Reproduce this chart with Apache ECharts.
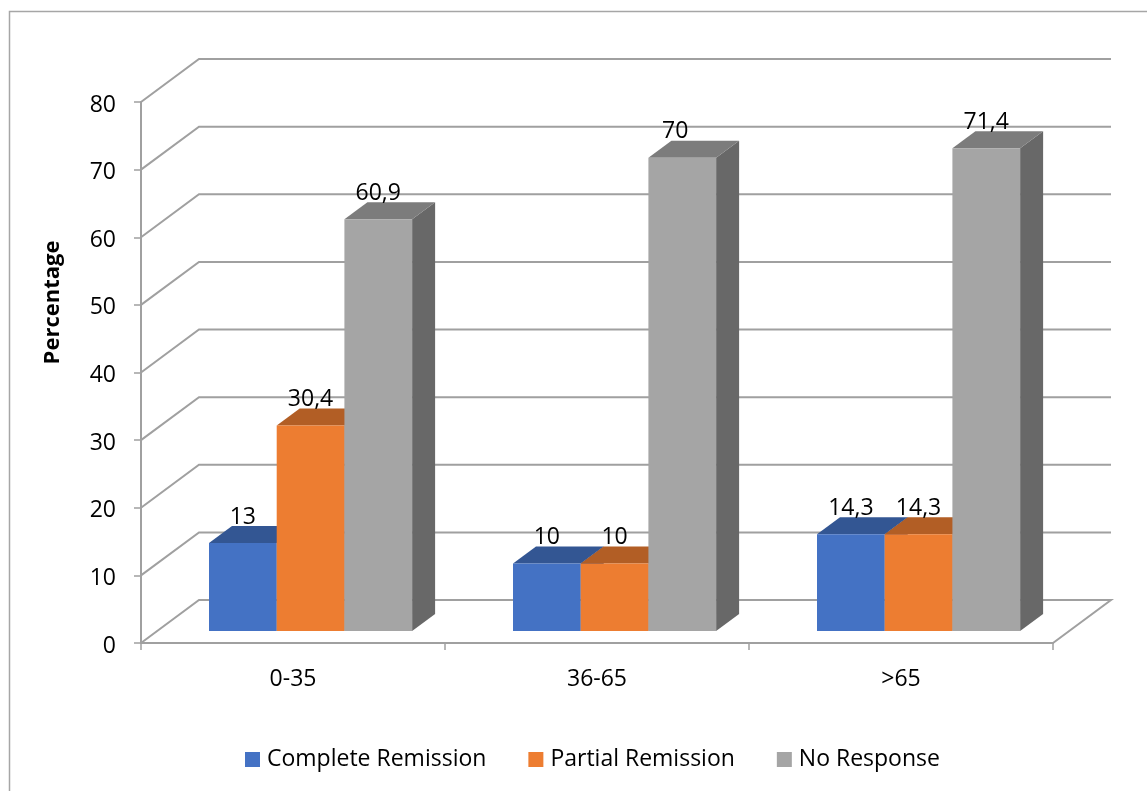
<!DOCTYPE html>
<html><head><meta charset="utf-8">
<style>html,body{margin:0;padding:0;background:#fff}#c{width:1147px;height:791px}</style>
<script src="https://cdn.jsdelivr.net/npm/echarts@6/dist/echarts.min.js"></script>
</head><body><div id="c"></div>
<script>
const categories = ['0-35', '36-65', '>65'];
const completeRemission = [13, 10, 14.3];
const partialRemission = [30.4, 10, 14.3];
const noResponse = [60.9, 70, 71.4];
const yTicks = [0, 10, 20, 30, 40, 50, 60, 70, 80];

const FONT = '"Open Sans", sans-serif';
const GRID_COLOR = '#a0a0a0';
const DEPTH_X = 58, DEPTH_Y = -43;      // wall depth
const BAR_DX = 23, BAR_DY = -17;        // bar depth
const FLOOR_LIFT = 12;                  // bars stand on the floor, in front of the wall

const chart = echarts.init(document.getElementById('c'), null, {renderer: 'canvas'});

function wallItem(params, api) {
  const cs = params.coordSys;
  const v = api.value(0);
  const y = api.coord([0, v])[1];
  const x0 = cs.x, x1 = cs.x + cs.width;
  const style = {stroke: GRID_COLOR, lineWidth: 2, fill: null};
  const pts = [[x0, y], [x0 + DEPTH_X, y + DEPTH_Y], [x1 + DEPTH_X, y + DEPTH_Y]];
  if (v === 0) pts.push([x1, y]);
  return {type: 'polyline', shape: {points: pts}, style};
}

function barItemFactory(seriesIndex, front, top, side) {
  return function (params, api) {
    const i = api.value(0), v = api.value(1);
    const band = api.size([1, 0])[0];
    const center = api.coord([i, 0])[0];
    const w = band * 0.2227;
    const xl = center - band * 0.2763 + seriesIndex * w;
    const xr = xl + w;
    const yb = api.coord([i, 0])[1] - FLOOR_LIFT;
    const yt = api.coord([i, v])[1] - FLOOR_LIFT;
    const nudge = (seriesIndex === 2 && i === 1) ? -7 : 0;
    return {
      type: 'group',
      children: [
        {type: 'polygon', shape: {points: [[xr, yt], [xr + BAR_DX, yt + BAR_DY], [xr + BAR_DX, yb + BAR_DY], [xr, yb]]}, style: {fill: side}},
        {type: 'polygon', shape: {points: [[xl, yt], [xl + BAR_DX, yt + BAR_DY], [xr + BAR_DX, yt + BAR_DY], [xr, yt]]}, style: {fill: top}},
        {type: 'rect', shape: {x: xl, y: yt, width: w, height: yb - yt}, style: {fill: front}},
        {type: 'text', z2: 100, style: {x: (xl + xr) / 2 + nudge, y: yt - 26, text: String(v).replace('.', ','), fill: '#000', font: '23px ' + FONT, align: 'center', verticalAlign: 'middle'}}
      ]
    };
  };
}

function barSeries(name, values, idx, front, top, side) {
  return {
    name, type: 'custom', silent: true, z: 5 + idx,
    itemStyle: {color: front},
    encode: {x: 0, y: 1},
    data: values.map((v, i) => [i, v]),
    renderItem: barItemFactory(idx, front, top, side)
  };
}

chart.setOption({
  animation: false,
  backgroundColor: '#fff',
  textStyle: {fontFamily: FONT},
  grid: {left: 141, right: 94, top: 102, bottom: 148},
  legend: {
    data: ['Complete Remission', 'Partial Remission', 'No Response'],
    left: 240, top: 743, icon: 'rect', itemWidth: 15, itemHeight: 15, itemGap: 42,
    textStyle: {fontSize: 23, color: '#000', fontFamily: FONT, padding: [0, 0, 0, 2]}
  },
  xAxis: {
    type: 'category', data: categories,
    axisLine: {lineStyle: {color: GRID_COLOR, width: 2}},
    axisTick: {show: true, length: 7, alignWithLabel: false, lineStyle: {color: GRID_COLOR, width: 1.5}},
    axisLabel: {color: '#000', fontSize: 23, margin: 25}
  },
  yAxis: {
    type: 'value', min: 0, max: 80, interval: 10,
    name: 'Percentage', nameLocation: 'middle', nameGap: 77, nameRotate: 90,
    nameTextStyle: {color: '#000', fontSize: 22, fontWeight: 'bold', padding: [0, 0, 0, 140]},
    axisLine: {show: true, lineStyle: {color: GRID_COLOR, width: 2}},
    axisTick: {show: true, length: 7, lineStyle: {color: GRID_COLOR, width: 1.5}},
    axisLabel: {color: '#000', fontSize: 23, margin: 25, verticalAlign: 'top', lineHeight: 6},
    splitLine: {show: false}
  },
  graphic: [
    {type: 'polyline', silent: true, z: 0, shape: {points: [[9.5, 791], [9.5, 11.5], [1147, 11.5]]}, style: {stroke: '#a6a6a6', lineWidth: 1.5, fill: null}}
  ],
  series: [
    {type: 'custom', silent: true, z: 1, encode: {y: 0}, data: yTicks.map(v => [v]), renderItem: wallItem},
    barSeries('Complete Remission', completeRemission, 0, '#4472C4', '#335693', '#2d4c82'),
    barSeries('Partial Remission', partialRemission, 1, '#ED7D31', '#B25E25', '#a05421'),
    barSeries('No Response', noResponse, 2, '#A5A5A5', '#7C7C7C', '#686868')
  ]
});
</script></body></html>
